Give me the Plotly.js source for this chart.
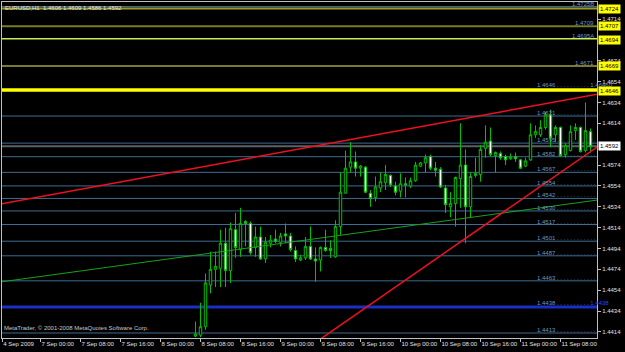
<!DOCTYPE html>
<html>
<head>
<meta charset="utf-8">
<script src="https://cdn.plot.ly/plotly-3.0.1.min.js"></script>
<style>
  html, body { margin:0; padding:0; background:#000; }
  #chart { width:625px; height:352px; }
</style>
</head>
<body>
<div id="chart"></div>
<script>
// ---------------- DATA ----------------
// hour index: 0 = 4 Sep 2009 (first bar on chart), 8 = 7 Sep 00:00, 5 px per bar
const barIndex = [39,40,41,42,43,44,45,46,47,48,49,50,51,52,53,54,55,56,57,58,59,60,61,62,63,64,65,66,67,
  68,69,70,71,72,73,74,75,76,77,78,79,80,81,82,83,84,85,86,87,88,89,90,91,92,93,94,95,96,97,98,99,100,101,
  102,103,104,105,106,107,108,109,110,111,112,113,114,115,116,117,118];
const openP = [1.4410,1.4411,1.4419,1.4459,1.4474,1.4475,1.4499,1.4473,1.4512,1.4493,1.4520,1.4518,1.4495,1.4505,1.4484,1.4499,1.4503,1.4500,1.4508,1.4506,1.4492,1.4483,1.4485,1.4496,1.4484,1.4483,1.4495,1.4494,1.4486,
  1.4515,1.4547,1.4572,1.4577,1.4571,1.4572,1.4547,1.4543,1.4552,1.4557,1.4564,1.4554,1.4549,1.4556,1.4554,1.4559,1.4573,1.4576,1.4582,1.4571,1.4570,1.4552,1.4534,1.4537,1.4561,1.4574,1.4534,1.4564,1.4565,1.4590,1.4597,1.4583,1.4585,1.4582,
  1.4580,1.4582,1.4579,1.4573,1.4579,1.4603,1.4603,1.4610,1.4622,1.4603,1.4610,1.4584,1.4588,1.4607,1.4610,1.4588,1.4606];
const highP = [1.4424,1.4442,1.4470,1.4491,1.4491,1.4512,1.4514,1.4519,1.4528,1.4533,1.4521,1.4520,1.4515,1.4515,1.4505,1.4507,1.4512,1.4509,1.4518,1.4509,1.4496,1.4488,1.4505,1.4515,1.4495,1.4496,1.4512,1.4502,1.4521,
  1.4567,1.4588,1.4596,1.4587,1.4574,1.4573,1.4550,1.4563,1.4567,1.4574,1.4565,1.4558,1.4566,1.4562,1.4562,1.4577,1.4577,1.4584,1.4584,1.4577,1.4572,1.4555,1.4548,1.4563,1.4614,1.4589,1.4567,1.4581,1.4593,1.4612,1.4610,1.4587,1.4587,1.4584,
  1.4585,1.4586,1.4580,1.4581,1.4614,1.4612,1.4617,1.4625,1.4627,1.4612,1.4611,1.4595,1.4612,1.4614,1.4611,1.4634,1.4609];
const lowP = [1.4409,1.4409,1.4416,1.4451,1.4457,1.4457,1.4457,1.4461,1.4485,1.4486,1.4496,1.4488,1.4486,1.4483,1.4480,1.4495,1.4499,1.4496,1.4499,1.4491,1.4481,1.4482,1.4483,1.4483,1.4462,1.4472,1.4491,1.4485,1.4485,
  1.4507,1.4547,1.4567,1.4563,1.4563,1.4547,1.4534,1.4539,1.4548,1.4550,1.4553,1.4545,1.4543,1.4543,1.4552,1.4558,1.4572,1.4567,1.4569,1.4563,1.4552,1.4528,1.4524,1.4515,1.4533,1.4499,1.4524,1.4562,1.4558,1.4581,1.4582,1.4567,1.4579,1.4574,
  1.4579,1.4577,1.4570,1.4572,1.4578,1.4600,1.4601,1.4608,1.4591,1.4596,1.4582,1.4581,1.4587,1.4598,1.4586,1.4586,1.4586];
const closeP = [1.4412,1.4419,1.4461,1.4474,1.4477,1.4499,1.4473,1.4513,1.4495,1.4518,1.4518,1.4490,1.4505,1.4484,1.4500,1.4502,1.4501,1.4506,1.4506,1.4493,1.4484,1.4485,1.4496,1.4484,1.4482,1.4495,1.4492,1.4492,1.4515,
  1.4548,1.4571,1.4577,1.4571,1.4573,1.4548,1.4542,1.4553,1.4558,1.4565,1.4555,1.4548,1.4556,1.4555,1.4559,1.4574,1.4576,1.4581,1.4571,1.4569,1.4553,1.4536,1.4537,1.4562,1.4574,1.4534,1.4563,1.4566,1.4589,1.4596,1.4584,1.4586,1.4581,1.4579,
  1.4582,1.4580,1.4571,1.4578,1.4603,1.4606,1.4610,1.4622,1.4600,1.4610,1.4583,1.4593,1.4606,1.4610,1.4587,1.4607,1.4592];

// time axis labels
const timeTickVals = [0.35,8,16,24,32,40,48,56,64,72,80,88,96,104,112];
const timeTickText = ["4 Sep 2009","7 Sep 00:00","7 Sep 08:00","7 Sep 16:00","8 Sep 00:00","8 Sep 08:00","8 Sep 16:00",
  "9 Sep 00:00","9 Sep 08:00","9 Sep 16:00","10 Sep 00:00","10 Sep 08:00","10 Sep 16:00","11 Sep 00:00","11 Sep 08:00"];
// price axis ticks
const priceTicks = [1.4414,1.4434,1.4454,1.4474,1.4494,1.4514,1.4534,1.4554,1.4574,1.4614,1.4634,1.4654,1.4674,1.4714];

// support / resistance levels (steel blue) with their labels
const levelPrices = [1.4621,1.4595,1.4582,1.4567,1.4554,1.4542,1.4530,1.4517,1.4501,1.4487,1.4463,1.4413];
const levelLabels = ["1.4621","1.4595","1.4582","1.4567","1.4554","1.4542","1.4530","1.4517","1.4501","1.4487","1.4463","1.4413"];
// upper resistance levels
const topLevelPrices = [1.47258,1.4724,1.4707,1.4695,1.4669,1.4646];
const topLevelLabels = ["1.4725B","","1.4709","1.4695A","1.4671",""];
const markerLevelPrices = [1.4724,1.4707,1.4694,1.4669,1.4646];
const markerLevelText = ["1.4724","1.4707","1.4694","1.4669","1.4646"];
const mainSupport = 1.4438;
const bidPrice = 1.4592;
// trend lines: [hour index], [price]
const trendUpperX = [-2,122], trendUpperY = [1.45349,1.46443];
const trendLowerX = [60,122], trendLowerY = [1.43939,1.46002];
const trendGreenX = [-2,122], trendGreenY = [1.44606,1.45422];

const headerText = "EURUSD,H1  1.4606 1.4609 1.4586 1.4592";
const copyrightText = "MetaTrader, \u00a9 2001-2008 MetaQuotes Software Corp.";

// ---------------- STYLE ----------------
const FONT = "Liberation Sans, Arial, sans-serif";
const steel = "#3d6c92", steelText = "#6a98c4";
const candleGreen = "#00c000";
const topStyles = [
  {color:"#4f7fa6", width:1},
  {color:"#9a9a28", width:2},
  {color:"#7a7a22", width:2},
  {color:"#c8f050", width:1.5},
  {color:"#7a7a30", width:2},
  {color:"#ffff00", width:3.5}
];

const shapes = [];
const annotations = [];

levelPrices.forEach((p,i) => {
  shapes.push({type:"line", xref:"paper", x0:0, x1:1, yref:"y", y0:p, y1:p, layer:"below",
    line:{color:steel, width:1}});
  annotations.push({xref:"x", x:106.9, yref:"y", y:p, xanchor:"left", yanchor:"bottom", showarrow:false,
    text: levelLabels[i] + " . . . . . . . . . . . . .", font:{family:FONT, size:6, color:steelText}, yshift:-2});
});
// bid line
shapes.push({type:"line", xref:"paper", x0:0, x1:1, yref:"y", y0:bidPrice, y1:bidPrice, layer:"below",
  line:{color:"#5a6068", width:2}});
// main support thick blue
shapes.push({type:"line", xref:"paper", x0:0, x1:1, yref:"y", y0:mainSupport, y1:mainSupport, layer:"below",
  line:{color:"#1c2fc4", width:3}});
annotations.push({xref:"x", x:106.9, yref:"y", y:mainSupport, xanchor:"left", yanchor:"bottom", showarrow:false,
  text:"1.4438 . . . . . . . . . . <span style='color:#2a44ff'>1.4438</span>", font:{family:FONT, size:6, color:steelText}, yshift:-1});

topLevelPrices.forEach((p,i) => {
  shapes.push({type:"line", xref:"paper", x0:0, x1:1, yref:"y", y0:p, y1:p, layer:"below",
    line:{color:topStyles[i].color, width:topStyles[i].width}});
  if (topLevelLabels[i]) {
    annotations.push({xref:"paper", x:1, yref:"y", y:p, xanchor:"right", yanchor:"bottom", showarrow:false,
      text: topLevelLabels[i], font:{family:FONT, size:6, color:steelText}, yshift:-2, xshift:-1});
  }
});
annotations.push({xref:"x", x:106.9, yref:"y", y:1.4646, xanchor:"left", yanchor:"bottom", showarrow:false,
  text:"1.4646 . . . . . . . . . . 1.46460", font:{family:FONT, size:6, color:steelText}, yshift:0});

markerLevelPrices.forEach((p,i) => {
  annotations.push({xref:"paper", x:1, yref:"y", y:p, xanchor:"left", yanchor:"middle", showarrow:false,
    text: markerLevelText[i], bgcolor:"#ffff00", borderpad:1, xshift:1, yshift:(i === 4 ? -1 : 0),
    font:{family:FONT, size:6, color:"#000000"}});
});
annotations.push({xref:"paper", x:1, yref:"y", y:bidPrice, xanchor:"left", yanchor:"middle", showarrow:false,
  text:"1.4592", bgcolor:"#ffffff", borderpad:1, xshift:1, font:{family:FONT, size:6, color:"#000000"}});

annotations.push({xref:"paper", x:0, yref:"paper", y:1, xanchor:"left", yanchor:"top", showarrow:false,
  text: headerText, font:{family:FONT, size:6, color:"#e8e8e8"}, xshift:1, yshift:-1});
annotations.push({xref:"paper", x:0, yref:"paper", y:0, xanchor:"left", yanchor:"bottom", showarrow:false,
  text: copyrightText, font:{family:FONT, size:6, color:"#c8c8c8"}, xshift:0, yshift:5});

const traces = [
  {type:"candlestick", x:barIndex, open:openP, high:highP, low:lowP, close:closeP,
   increasing:{line:{color:candleGreen, width:1}, fillcolor:"#000000"},
   decreasing:{line:{color:candleGreen, width:1}, fillcolor:"#ffffff"},
   whiskerwidth:0, hoverinfo:"skip", showlegend:false},
  {type:"scatter", mode:"lines", x:trendGreenX, y:trendGreenY, line:{color:"#1aa01a", width:1}, hoverinfo:"skip", showlegend:false},
  {type:"scatter", mode:"lines", x:trendUpperX, y:trendUpperY, line:{color:"#f01020", width:1.5}, hoverinfo:"skip", showlegend:false},
  {type:"scatter", mode:"lines", x:trendLowerX, y:trendLowerY, line:{color:"#f01020", width:1.5}, hoverinfo:"skip", showlegend:false}
];

const layout = {
  width:625, height:352,
  paper_bgcolor:"#000000", plot_bgcolor:"#000000",
  margin:{l:2, r:28, t:2, b:14, pad:0},
  showlegend:false,
  boxgap:0.3,
  font:{family:FONT, size:6, color:"#e0e0e0"},
  xaxis:{type:"linear", range:[0.3,119.3], tickmode:"array", tickvals:timeTickVals, ticktext:timeTickText,
    tickangle:0, automargin:false,
    ticklabelposition:"outside right", ticks:"outside", ticklen:3, tickcolor:"#c0c0c0", tickwidth:1,
    showgrid:false, zeroline:false, showline:true, linecolor:"#c0c0c0", linewidth:1, mirror:true,
    tickfont:{family:FONT, size:6, color:"#e0e0e0"}, rangeslider:{visible:false}, fixedrange:true},
  yaxis:{side:"right", range:[1.44082,1.47303], tickmode:"array", tickvals:priceTicks, tickformat:".4f",
    automargin:false,
    ticks:"outside", ticklen:3, tickcolor:"#c0c0c0", tickwidth:1,
    showgrid:false, zeroline:false, showline:true, linecolor:"#c0c0c0", linewidth:1, mirror:true,
    tickfont:{family:FONT, size:6, color:"#e0e0e0"}, fixedrange:true},
  shapes:shapes,
  annotations:annotations
};

Plotly.newPlot("chart", traces, layout, {staticPlot:true, displayModeBar:false});
</script>
</body>
</html>
